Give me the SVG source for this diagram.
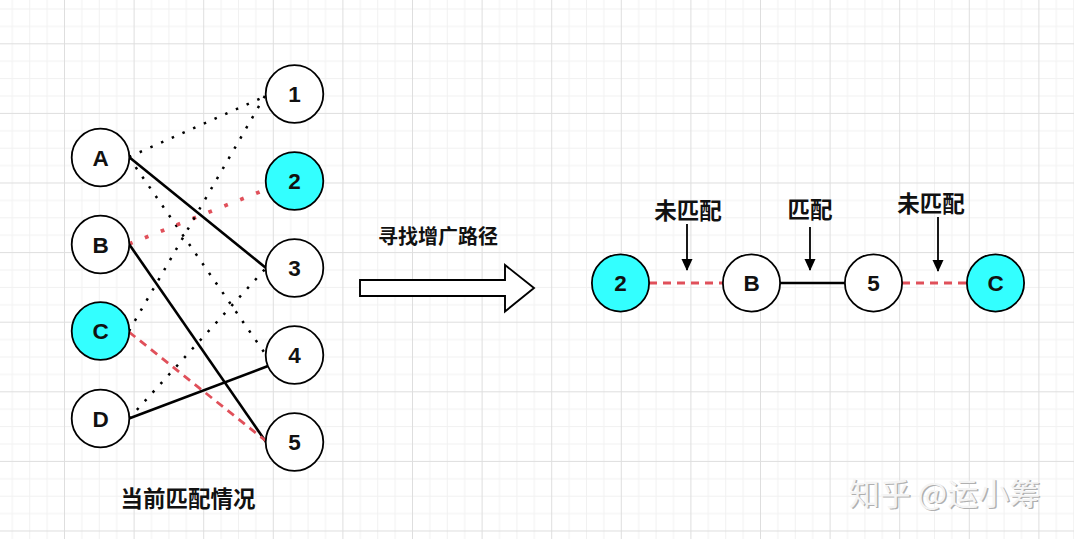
<svg xmlns="http://www.w3.org/2000/svg" width="1074" height="539" viewBox="0 0 1074 539">
  <style>
    .node { fill: #ffffff; stroke: #000000; stroke-width: 1.8; }
    .hl { fill: #33ffff; }
    .lbl { font-family: "Liberation Sans", Arial, sans-serif; font-weight: bold; font-size: 22.5px; fill: #111; text-anchor: middle; }
    .cjk { font-family: "Liberation Sans", "Noto Sans CJK SC", sans-serif; font-weight: bold; font-size: 22.5px; fill: #111; text-anchor: middle; }
    .solid { stroke: #000; stroke-width: 2.6; fill: none; }
    .dot { stroke: #000; stroke-width: 2.5; stroke-dasharray: 2.5 9.2; fill: none; }
    .reddot { stroke: #e0505a; stroke-width: 3.8; stroke-dasharray: 3.8 13.3; fill: none; }
    .reddash { stroke: #e0505a; stroke-width: 2.8; stroke-dasharray: 8 6; fill: none; }
    .pointer { stroke: #000; stroke-width: 1.8; fill: none; marker-end: url(#ah); }
    .wm { font-family: "Noto Sans CJK SC", sans-serif; font-size: 31px; text-anchor: middle; }
  </style>
  <defs>
    <pattern id="grid" patternUnits="userSpaceOnUse" x="64" y="43.3" width="69.6" height="69.6">
      <rect x="17.4" y="0" width="1" height="69.6" fill="#f1f1f1"/>
      <rect x="34.8" y="0" width="1" height="69.6" fill="#f1f1f1"/>
      <rect x="52.2" y="0" width="1" height="69.6" fill="#f1f1f1"/>
      <rect x="0" y="17.4" width="69.6" height="1" fill="#f1f1f1"/>
      <rect x="0" y="34.8" width="69.6" height="1" fill="#f1f1f1"/>
      <rect x="0" y="52.2" width="69.6" height="1" fill="#f1f1f1"/>
      <rect x="0" y="0" width="1" height="69.6" fill="#dedede"/>
      <rect x="0" y="0" width="69.6" height="1" fill="#dedede"/>
    </pattern>
    <marker id="ah" viewBox="0 0 12 12" refX="11" refY="6" markerWidth="12" markerHeight="12" markerUnits="userSpaceOnUse" orient="auto">
      <path d="M0,0.5 L12,6 L0,11.5 Z" fill="#000"/>
    </marker>
  </defs>

  <rect x="0" y="0" width="1074" height="539" fill="#ffffff"/>
  <rect x="0" y="0" width="1074" height="539" fill="url(#grid)"/>

  <g id="connectors">
    <line class="dot" x1="129" y1="157" x2="266" y2="96"/>
    <line class="solid" x1="129" y1="157" x2="266" y2="268"/>
    <line class="dot" x1="129" y1="157.5" x2="266" y2="355"/>
    <line class="reddot" x1="129" y1="244" x2="267" y2="189"/>
    <line class="solid" x1="129" y1="244" x2="266" y2="442"/>
    <line class="dot" x1="129" y1="331" x2="266" y2="94"/>
    <line class="reddash" x1="129" y1="332" x2="266" y2="441"/>
    <line class="dot" x1="129" y1="418.5" x2="266" y2="268"/>
    <line class="solid" x1="129" y1="418.5" x2="268" y2="366"/>

    <line class="reddash" x1="649" y1="283" x2="723" y2="283" stroke-dasharray="7 6"/>
    <line class="solid" x1="780" y1="283" x2="845" y2="283"/>
    <line class="reddash" x1="902" y1="283" x2="967" y2="283" stroke-dasharray="7 6"/>

    <line class="pointer" x1="687" y1="224" x2="687" y2="270"/>
    <line class="pointer" x1="810" y1="227" x2="810" y2="270"/>
    <line class="pointer" x1="938" y1="217" x2="938" y2="271"/>
  </g>

  <g id="node-A"><circle class="node" cx="100.5" cy="157.5" r="28.8"/><text class="lbl" x="100.5" y="165.5">A</text></g>
  <g id="node-B"><circle class="node" cx="100.5" cy="244.5" r="28.8"/><text class="lbl" x="100.5" y="252.5">B</text></g>
  <g id="node-C"><circle class="node hl" cx="100.5" cy="331" r="28.8"/><text class="lbl" x="100.5" y="339">C</text></g>
  <g id="node-D"><circle class="node" cx="100.5" cy="418.5" r="28.8"/><text class="lbl" x="100.5" y="426.5">D</text></g>

  <g id="node-1"><circle class="node" cx="294.5" cy="94" r="28.8"/><text class="lbl" x="294.5" y="102">1</text></g>
  <g id="node-2"><circle class="node hl" cx="294.5" cy="181" r="28.8"/><text class="lbl" x="294.5" y="189">2</text></g>
  <g id="node-3"><circle class="node" cx="294.5" cy="268" r="28.8"/><text class="lbl" x="294.5" y="276">3</text></g>
  <g id="node-4"><circle class="node" cx="294.5" cy="355" r="28.8"/><text class="lbl" x="294.5" y="363">4</text></g>
  <g id="node-5"><circle class="node" cx="294.5" cy="442" r="28.8"/><text class="lbl" x="294.5" y="450">5</text></g>

  <g id="label-current"><text class="cjk" x="188" y="507">当前匹配情况</text></g>

  <g id="big-arrow">
    <polygon points="360,280 505,280 505,265 534,288 505,311.5 505,296 360,296" fill="#ffffff" stroke="#000" stroke-width="1.9" stroke-linejoin="miter"/>
    <text class="cjk" x="438" y="244" style="font-size:20px">寻找增广路径</text>
  </g>

  <g id="path-2"><circle class="node hl" cx="620.5" cy="283" r="28.6"/><text class="lbl" x="620.5" y="291">2</text></g>
  <g id="path-B"><circle class="node" cx="751.5" cy="283" r="28.6"/><text class="lbl" x="751.5" y="291">B</text></g>
  <g id="path-5"><circle class="node" cx="873.5" cy="283" r="28.6"/><text class="lbl" x="873.5" y="291">5</text></g>
  <g id="path-C"><circle class="node hl" cx="995.5" cy="283" r="28.6"/><text class="lbl" x="995.5" y="291">C</text></g>

  <g id="label-unmatched-1"><text class="cjk" x="688" y="218.5">未匹配</text></g>
  <g id="label-matched"><text class="cjk" x="810" y="218">匹配</text></g>
  <g id="label-unmatched-2"><text class="cjk" x="931" y="212">未匹配</text></g>

  <g id="watermark">
    <text class="wm" x="946" y="506" fill="#b0b0b0">知乎 @运小筹</text>
    <text class="wm" x="944.5" y="504.5" fill="#f4f4f4">知乎 @运小筹</text>
  </g>
</svg>
